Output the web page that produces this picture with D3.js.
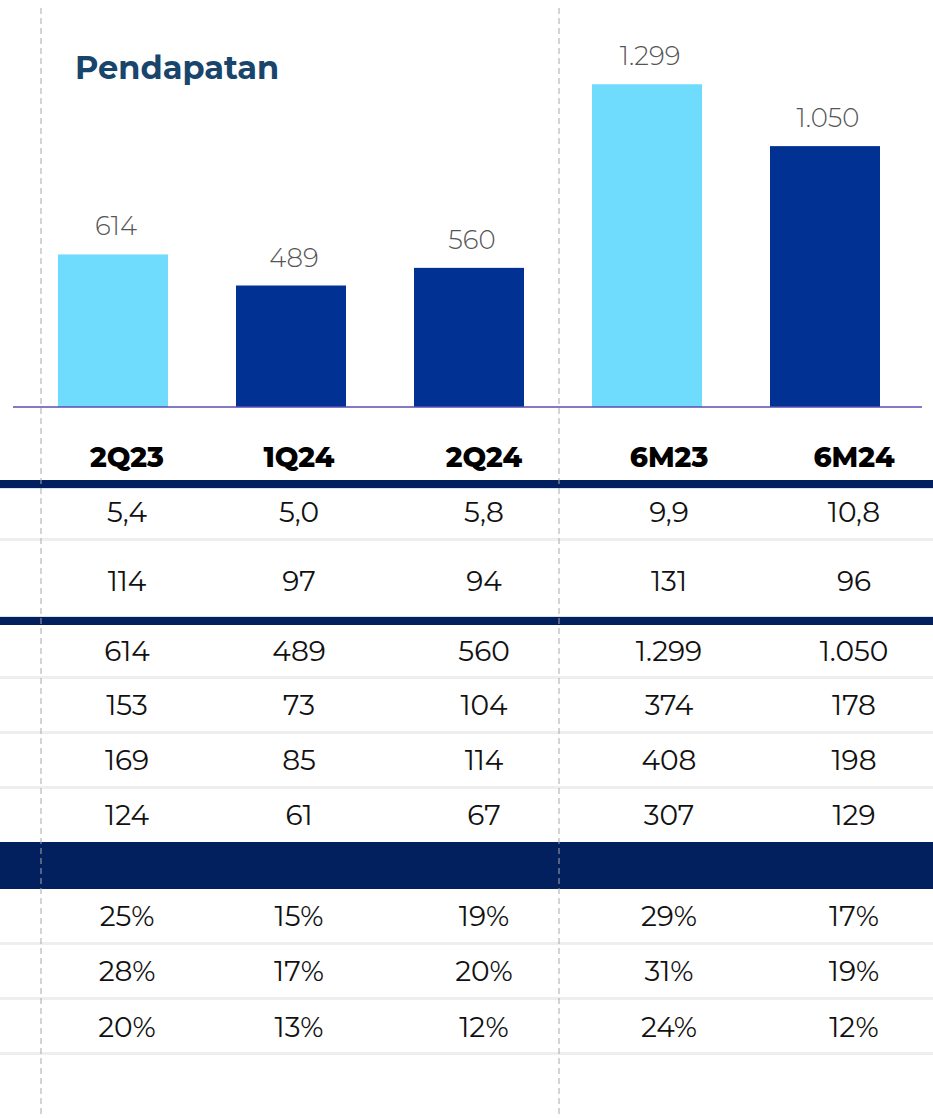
<!DOCTYPE html>
<html>
<head>
<meta charset="utf-8">
<script src="https://cdn.jsdelivr.net/npm/d3@7"></script>
<style>
    html, body { margin: 0; padding: 0; background: #fff; }
    svg { display: block; font-family: Montserrat, Inter, "Noto Sans", sans-serif; }
</style>
</head>
<body>
<div id="chart"></div>
<script>
// data
const categories = ["2Q23", "1Q24", "2Q24", "6M23", "6M24"];
const priorPeriods = ["2Q23", "6M23"];
const revenue = [614, 489, 560, 1299, 1050];

const rowRatio   = [5.4, 5.0, 5.8, 9.9, 10.8];
const rowCount   = [114, 97, 94, 131, 96];
const rowRevenue = [614, 489, 560, 1299, 1050];
const rowGross   = [153, 73, 104, 374, 178];
const rowEbitda  = [169, 85, 114, 408, 198];
const rowProfit  = [124, 61, 67, 307, 129];
const marginA    = [25, 15, 19, 29, 17];
const marginB    = [28, 17, 20, 31, 19];
const marginC    = [20, 13, 12, 24, 12];

const W = 933, H = 1118;

const locale = d3.formatLocale({ decimal: ",", thousands: ".", grouping: [3], currency: ["Rp", ""] });
const fmtInt = locale.format(",d");
const fmtDec = locale.format(",.1f");
const fmtPct = d => d + "%";

const svg = d3.select("#chart").append("svg")
    .attr("width", W)
    .attr("height", H);

// bar chart
const x = d3.scaleBand()
    .domain(categories)
    .range([24, 914])
    .paddingInner(0.382)
    .paddingOuter(0.191);

const y = d3.scaleLinear()
    .domain([0, 1300])
    .range([407, 84]);

const color = d3.scaleOrdinal()
    .domain(categories)
    .range(categories.map(c => priorPeriods.includes(c) ? "#6fdcfe" : "#023194"));

const bars = revenue.map((v, i) => ({ cat: categories[i], value: v }));

svg.append("text")
    .attr("x", 75)
    .attr("y", 79)
    .attr("fill", "#17456b")
    .attr("font-size", 32)
    .attr("font-weight", 700)
    .text("Pendapatan");

svg.append("g")
    .selectAll("rect")
    .data(bars)
    .join("rect")
    .attr("x", d => x(d.cat))
    .attr("y", d => y(d.value))
    .attr("width", x.bandwidth())
    .attr("height", d => y(0) - y(d.value))
    .attr("fill", d => color(d.cat));

svg.append("g")
    .selectAll("text")
    .data(bars)
    .join("text")
    .attr("x", d => x(d.cat) + x.bandwidth() / 2 + 3)
    .attr("y", d => y(d.value) - 19)
    .attr("text-anchor", "middle")
    .attr("fill", "#555")
    .attr("font-size", 26)
    .attr("font-weight", 300)
    .text(d => fmtInt(d.value));

svg.append("line")
    .attr("x1", 13).attr("x2", 922)
    .attr("y1", y(0)).attr("y2", y(0))
    .attr("stroke", "#5a4cb4")
    .attr("stroke-width", 1.5);

// table
const colX = d3.scaleOrdinal().domain(categories).range([127, 299, 484, 669, 854]);

svg.append("g")
    .selectAll("text")
    .data(categories)
    .join("text")
    .attr("x", d => colX(d))
    .attr("y", 467)
    .attr("text-anchor", "middle")
    .attr("fill", "#000")
    .attr("font-size", 28)
    .attr("font-weight", 800)
    .text(d => d);

const rows = [
    { vals: rowRatio,   fmt: fmtDec, y: 522 },
    { vals: rowCount,   fmt: fmtInt, y: 591 },
    { vals: rowRevenue, fmt: fmtInt, y: 661 },
    { vals: rowGross,   fmt: fmtInt, y: 715 },
    { vals: rowEbitda,  fmt: fmtInt, y: 770 },
    { vals: rowProfit,  fmt: fmtInt, y: 825 },
    { vals: marginA,    fmt: fmtPct, y: 926 },
    { vals: marginB,    fmt: fmtPct, y: 981 },
    { vals: marginC,    fmt: fmtPct, y: 1037 }
];

// thin separators
const seps = [539.5, 677.5, 732.5, 787.5, 943.5, 998.5, 1053.5];
svg.append("g")
    .selectAll("line")
    .data(seps)
    .join("line")
    .attr("x1", 0).attr("x2", W)
    .attr("y1", d => d).attr("y2", d => d)
    .attr("stroke", "#eeeeee")
    .attr("stroke-width", 3);

// thick navy rules and band
const rules = [[480, 8], [617, 8], [842, 47]];
svg.append("g")
    .selectAll("rect")
    .data(rules)
    .join("rect")
    .attr("x", 0)
    .attr("y", d => d[0])
    .attr("width", W)
    .attr("height", d => d[1])
    .attr("fill", "#02205e");

svg.append("g")
    .selectAll("line")
    .data([488.5, 616.5])
    .join("line")
    .attr("x1", 0).attr("x2", W)
    .attr("y1", d => d).attr("y2", d => d)
    .attr("stroke", "#dde3ee")
    .attr("stroke-width", 1);

const rowG = svg.append("g")
    .selectAll("g")
    .data(rows)
    .join("g");

rowG.selectAll("text")
    .data(r => r.vals.map((v, i) => ({ cat: categories[i], text: r.fmt(v), y: r.y })))
    .join("text")
    .attr("x", d => colX(d.cat))
    .attr("y", d => d.y)
    .attr("text-anchor", "middle")
    .attr("fill", "#111")
    .attr("font-size", 28)
    .text(d => d.text);

// dashed guides
svg.append("g")
    .selectAll("line")
    .data([41, 559])
    .join("line")
    .attr("x1", d => d).attr("x2", d => d)
    .attr("y1", 8).attr("y2", H)
    .attr("stroke", "#a8a8a8")
    .attr("stroke-width", 1)
    .attr("stroke-dasharray", "6,4");
</script>
</body>
</html>
